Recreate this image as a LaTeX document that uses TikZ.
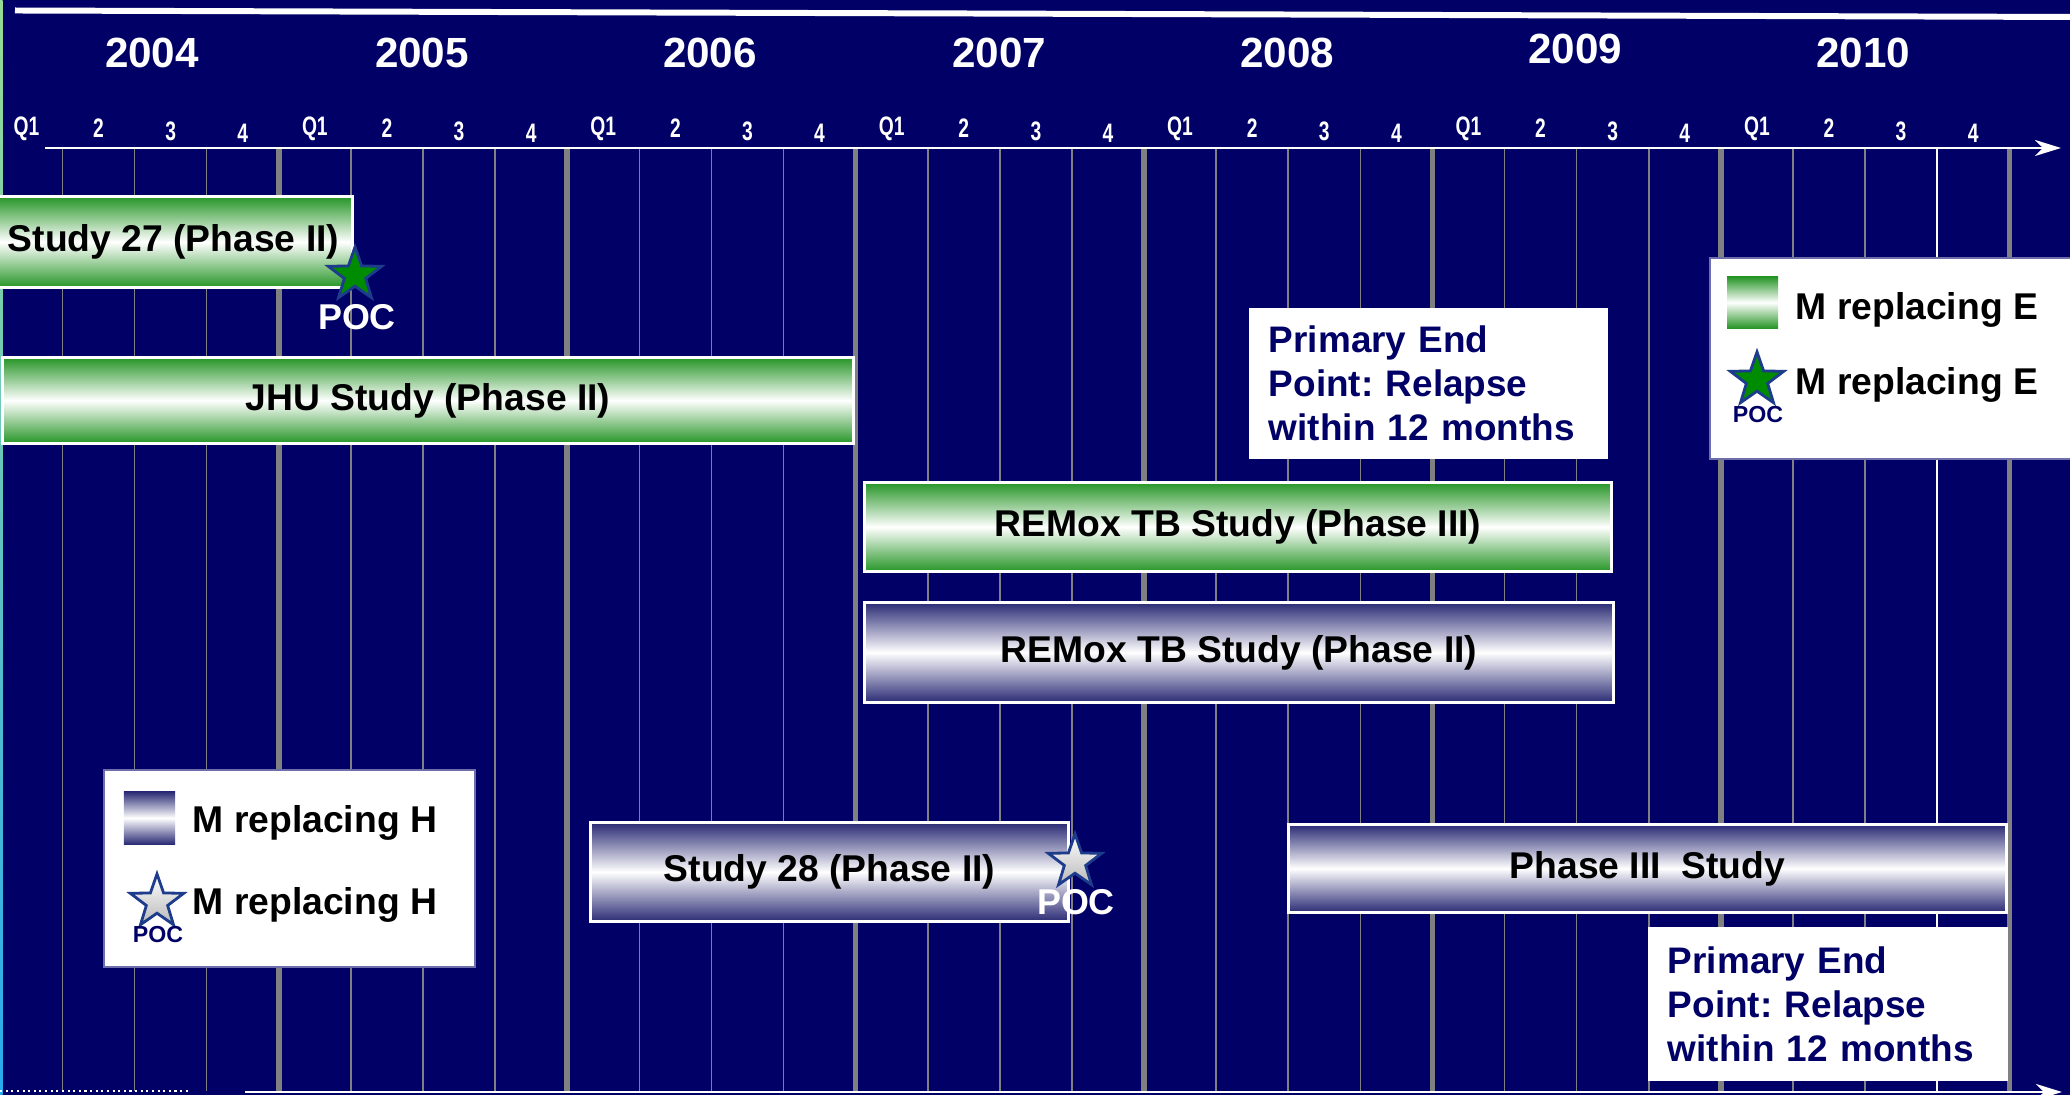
\documentclass[tikz,border=0pt]{standalone}
\usepackage{fontspec}
\setmainfont{Liberation Sans}
\usepackage{graphicx}
\usetikzlibrary{shapes.geometric,arrows.meta}
\frenchspacing
\definecolor{bgnavy}{RGB}{0,0,102}
\definecolor{gridgray}{RGB}{128,128,128}
\definecolor{bargreen}{RGB}{40,150,40}
\definecolor{barblue}{RGB}{44,44,118}
\definecolor{starblue}{RGB}{30,60,140}
\definecolor{stargreen}{RGB}{0,140,0}
\definecolor{legborder}{RGB}{110,110,170}
\definecolor{edgegreen}{RGB}{150,220,150}
\definecolor{edgeblue}{RGB}{40,170,240}
\newcommand\mybarfont{\fontsize{10.6pt}{12.5pt}\selectfont\bfseries}
\newcommand\mynotefont{\fontsize{10.5pt}{12.5pt}\selectfont\bfseries}
\newcommand\myyearfont{\fontsize{12pt}{14pt}\selectfont\bfseries}
\newcommand\myqfont{\fontsize{7.6pt}{8pt}\selectfont\bfseries}
\newcommand\mypocfont{\fontsize{10.2pt}{12pt}\selectfont\bfseries}
\newcommand\mysmallpoc{\fontsize{6.6pt}{7pt}\selectfont\bfseries}
\tikzset{
  greenbar/.style={draw=white, line width=0.85pt, top color=bargreen, bottom color=bargreen, middle color=white, inner sep=0pt, font=\mybarfont, text=black},
  bluebar/.style={draw=white, line width=0.85pt, top color=barblue, bottom color=barblue, middle color=white, inner sep=0pt, font=\mybarfont, text=black},
  notebox/.style={fill=white, text=bgnavy, align=left, inner xsep=0.2cm, inner ysep=0pt, font=\mynotefont},
  legbox/.style={fill=white, draw=legborder, line width=0.4pt},
  legtext/.style={anchor=base west, inner sep=0pt, font=\mybarfont, text=black},
  greensq/.style={top color=bargreen, bottom color=bargreen, middle color=white, inner sep=0pt},
  bluesq/.style={top color=barblue, bottom color=barblue, middle color=white, inner sep=0pt},
  yearlbl/.style={text=white, font=\myyearfont, inner sep=0pt},
  qlbl/.style={text=white, font=\myqfont, inner sep=0pt},
  pocstar/.style={star, star points=5, star point ratio=2.5, minimum size=0.56cm, inner sep=0pt, draw=starblue, line width=0.8pt},
  poctext/.style={text=white, font=\mypocfont, inner sep=0pt},
  smallpoc/.style={text=bgnavy, font=\mysmallpoc, inner sep=0pt},
  thingrid/.style={draw=gridgray, line width=0.45pt},
  thickgrid/.style={draw=gridgray, line width=1.55pt},
  axisline/.style={draw=white, line width=0.75pt, -{Stealth[length=0.26cm, width=0.16cm, inset=0.08cm]}}
}
\begin{document}
\begin{tikzpicture}[x=0.01cm, y=-0.01cm]
\useasboundingbox (0,0) rectangle (2070,1095);
\clip (0,0) rectangle (2070,1095);
\fill[bgnavy] (0,0) rectangle (2070,1095);
\shade[top color=edgegreen, bottom color=edgeblue] (0,0) rectangle (2.5,1095);

% top white rule
\coordinate (topL) at (15,10.5);
\coordinate (topR) at (2075,17);
\draw[white, line width=1.7pt] (topL) -- (topR);

% grid
\foreach \k in {1,2,3,5,6,7,9,10,11,13,14,15,17,18,19,21,22,23,25,26}
  \draw[thingrid] ({-9.6+72.1*\k},148) -- ({-9.6+72.1*\k},1091);
\draw[draw=white, line width=0.55pt] ({-9.6+72.1*27},148) -- ({-9.6+72.1*27},1091);
\foreach \k in {4,8,...,28}
  \draw[thickgrid] ({-9.6+72.1*\k},148) -- ({-9.6+72.1*\k},1091);

% axes
\coordinate (axL) at (45,148);
\coordinate (axR) at (2061,148);
\draw[axisline] (axL) -- (axR);
\coordinate (baxL) at (245,1092);
\coordinate (baxR) at (2062,1092);
\draw[axisline] (baxL) -- (baxR);
\coordinate (dotL) at (0,1091);
\coordinate (dotR) at (191,1091);
\draw[white, line width=0.6pt, densely dotted] (dotL) -- (dotR);

% years
\node[yearlbl] (y2004) at (152,53) {2004};
\node[yearlbl] (y2005) at (422,53) {2005};
\node[yearlbl] (y2006) at (710,53) {2006};
\node[yearlbl] (y2007) at (999,53) {2007};
\node[yearlbl] (y2008) at (1287,53) {2008};
\node[yearlbl] (y2009) at (1575,49) {2009};
\node[yearlbl] (y2010) at (1863,52.5) {2010};

% quarters
\foreach \yr in {0,...,6}{
  \foreach \q/\lab/\dy in {0/Q1/129,1/2/128.5,2/3/131.5,3/4/133.5}{
    \node[qlbl] (q\yr-\q) at ({26.45+72.1*(4*\yr+\q)},\dy) {\scalebox{0.72}[1]{\lab}};
  }
}

% bars
\node[greenbar, minimum width=3.57cm, minimum height=0.90cm] (s27) at (173.5,242) {Study 27 (Phase II)};
\node[greenbar, minimum width=8.50cm, minimum height=0.85cm] (jhu) at (428,400.5) {JHU Study (Phase II)};
\node[greenbar, minimum width=7.46cm, minimum height=0.88cm] (rem3) at (1238,527) {REMox TB Study (Phase III)};
\node[bluebar, minimum width=7.48cm, minimum height=0.99cm] (rem2) at (1239,652.5) {REMox TB Study (Phase II)};
\node[bluebar, minimum width=4.77cm, minimum height=0.98cm] (s28) at (829.5,872) {Study 28 (Phase II)};
\node[bluebar, minimum width=7.17cm, minimum height=0.87cm] (p3) at (1647.5,868.5) {Phase III~~Study};

% POC markers
\node[pocstar, fill=stargreen] (st27) at (355,275) {};
\node[poctext] (poc27) at (357,317) {POC};
\node[pocstar, top color=white, bottom color=gray!55] (st28) at (1075,862) {};
\node[poctext] (poc28) at (1076,902) {POC};

% primary end point notes
\node[notebox, text width=3.19cm, minimum height=1.51cm] (pep1) at (1428.5,383.5)
  {Primary End\\Point: Relapse\\within 12 months};
\node[notebox, text width=3.20cm, minimum height=1.54cm] (pep2) at (1828,1004)
  {Primary End\\Point: Relapse\\within 12 months};

% legend E
\node[legbox, minimum width=3.65cm, minimum height=2.01cm] (legE) at (1892.5,358.5) {};
\node[greensq, minimum width=0.51cm, minimum height=0.51cm] (legEsq) at (1752.5,302.5) {};
\node[legtext] (legEt1) at (1795,320) {M replacing E};
\node[pocstar, fill=stargreen] (legEst) at (1757,380) {};
\node[legtext] (legEt2) at (1795,395) {M replacing E};
\node[smallpoc] (legEpoc) at (1758,415) {POC};

% legend H
\node[legbox, minimum width=3.71cm, minimum height=1.97cm] (legH) at (289.5,868.5) {};
\node[bluesq, minimum width=0.51cm, minimum height=0.52cm] (legHsq) at (149.5,818) {};
\node[legtext] (legHt1) at (192,833) {M replacing H};
\node[pocstar, top color=white, bottom color=gray!55] (legHst) at (157,902) {};
\node[legtext] (legHt2) at (192,915) {M replacing H};
\node[smallpoc] (legHpoc) at (158,935) {POC};
\end{tikzpicture}
\end{document}
